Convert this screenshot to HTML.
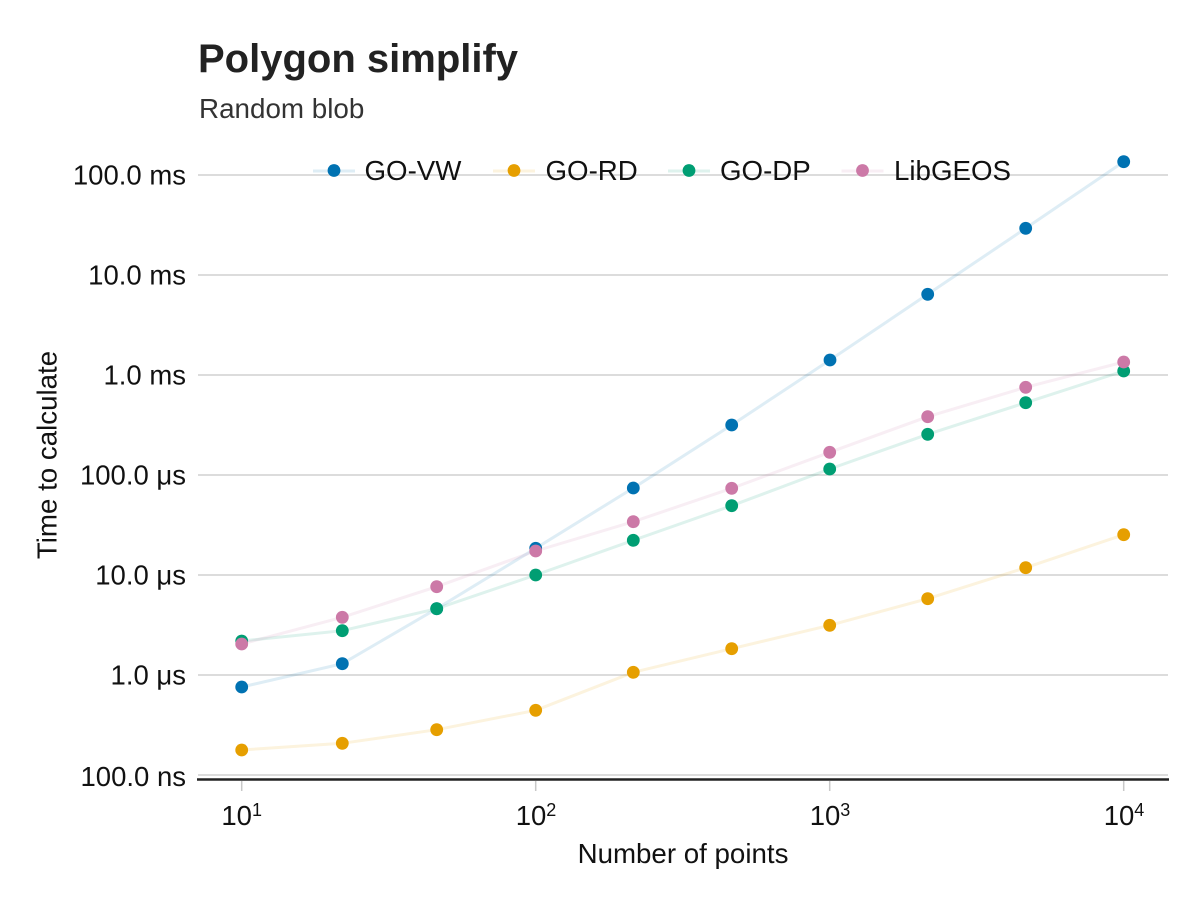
<!DOCTYPE html>
<html>
<head>
<meta charset="utf-8">
<style>
  html, body { margin: 0; padding: 0; background: #ffffff; }
  svg { display: block; }
  text { font-family: "Liberation Sans", Arial, sans-serif; }
</style>
</head>
<body>
<svg width="1200" height="900" viewBox="0 0 1200 900" xmlns="http://www.w3.org/2000/svg">
  <rect x="0" y="0" width="1200" height="900" fill="#ffffff"/>

  <!-- Title / subtitle -->
  <text x="198" y="72" font-size="40" font-weight="bold" fill="#222222">Polygon simplify</text>
  <text x="199" y="118" font-size="27.8" fill="#333333">Random blob</text>

  <!-- Gridlines -->
  <g stroke="#d0d0d0" stroke-width="1.5">
    <line x1="198" y1="175" x2="1168" y2="175"/>
    <line x1="198" y1="275" x2="1168" y2="275"/>
    <line x1="198" y1="375" x2="1168" y2="375"/>
    <line x1="198" y1="475" x2="1168" y2="475"/>
    <line x1="198" y1="575" x2="1168" y2="575"/>
    <line x1="198" y1="675" x2="1168" y2="675"/>
    <line x1="198" y1="775" x2="1168" y2="775"/>
  </g>

  <!-- X axis spine -->
  <line x1="197" y1="779.5" x2="1169" y2="779.5" stroke="#222222" stroke-width="2.6"/>

  <!-- X ticks -->
  <g stroke="#c8c8c8" stroke-width="1.5">
    <line x1="241.7" y1="781" x2="241.7" y2="791"/>
    <line x1="535.7" y1="781" x2="535.7" y2="791"/>
    <line x1="829.7" y1="781" x2="829.7" y2="791"/>
    <line x1="1123.7" y1="781" x2="1123.7" y2="791"/>
  </g>

  <!-- X tick labels -->
  <g font-size="27.5" fill="#111111" text-anchor="middle">
    <text x="241.7" y="825">10<tspan dy="-9" font-size="18">1</tspan></text>
    <text x="536" y="825">10<tspan dy="-9" font-size="18">2</tspan></text>
    <text x="830" y="825">10<tspan dy="-9" font-size="18">3</tspan></text>
    <text x="1124" y="825">10<tspan dy="-9" font-size="18">4</tspan></text>
  </g>

  <!-- Y tick labels -->
  <g font-size="27.5" fill="#111111" text-anchor="end">
    <text x="186" y="184.7">100.0 ms</text>
    <text x="186" y="284.7">10.0 ms</text>
    <text x="186" y="384.7">1.0 ms</text>
    <text x="186" y="484.7">100.0 μs</text>
    <text x="186" y="584.7">10.0 μs</text>
    <text x="186" y="684.7">1.0 μs</text>
    <text x="186" y="786">100.0 ns</text>
  </g>

  <!-- Axis labels -->
  <text x="683" y="863" font-size="27.7" fill="#111111" text-anchor="middle">Number of points</text>
  <text transform="translate(56.5,455) rotate(-90)" x="0" y="0" font-size="27.7" fill="#111111" text-anchor="middle">Time to calculate</text>

  <!-- GO-VW -->
  <polyline fill="none" stroke="#0072B2" stroke-opacity="0.13" stroke-width="3"
    points="241.7,687 342.3,663.7 436.7,608.7 535.7,548.3 633.3,488 731.7,425 830,360 927.7,294.3 1025.7,228.3 1123.7,161.7"/>
  <g fill="#0072B2">
    <circle cx="241.7" cy="687" r="6.4"/>
    <circle cx="342.3" cy="663.7" r="6.4"/>
    <circle cx="436.7" cy="608.7" r="6.4"/>
    <circle cx="535.7" cy="548.3" r="6.4"/>
    <circle cx="633.3" cy="488" r="6.4"/>
    <circle cx="731.7" cy="425" r="6.4"/>
    <circle cx="830" cy="360" r="6.4"/>
    <circle cx="927.7" cy="294.3" r="6.4"/>
    <circle cx="1025.7" cy="228.3" r="6.4"/>
    <circle cx="1123.7" cy="161.7" r="6.4"/>
  </g>

  <!-- GO-RD -->
  <polyline fill="none" stroke="#E69F00" stroke-opacity="0.13" stroke-width="3"
    points="241.7,750 342.3,743.3 436.7,729.7 535.7,710.3 633.3,672.3 731.7,648.7 829.7,625.3 927.7,598.7 1025.7,567.7 1123.7,534.7"/>
  <g fill="#E69F00">
    <circle cx="241.7" cy="750" r="6.4"/>
    <circle cx="342.3" cy="743.3" r="6.4"/>
    <circle cx="436.7" cy="729.7" r="6.4"/>
    <circle cx="535.7" cy="710.3" r="6.4"/>
    <circle cx="633.3" cy="672.3" r="6.4"/>
    <circle cx="731.7" cy="648.7" r="6.4"/>
    <circle cx="829.7" cy="625.3" r="6.4"/>
    <circle cx="927.7" cy="598.7" r="6.4"/>
    <circle cx="1025.7" cy="567.7" r="6.4"/>
    <circle cx="1123.7" cy="534.7" r="6.4"/>
  </g>

  <!-- GO-DP -->
  <polyline fill="none" stroke="#009E73" stroke-opacity="0.13" stroke-width="3"
    points="241.7,641 342.3,630.7 436.7,608.7 535.7,575 633.3,540.3 731.7,505.7 829.7,469 927.7,434.3 1025.7,402.7 1123.7,371"/>
  <g fill="#009E73">
    <circle cx="241.7" cy="641" r="6.4"/>
    <circle cx="342.3" cy="630.7" r="6.4"/>
    <circle cx="436.7" cy="608.7" r="6.4"/>
    <circle cx="535.7" cy="575" r="6.4"/>
    <circle cx="633.3" cy="540.3" r="6.4"/>
    <circle cx="731.7" cy="505.7" r="6.4"/>
    <circle cx="829.7" cy="469" r="6.4"/>
    <circle cx="927.7" cy="434.3" r="6.4"/>
    <circle cx="1025.7" cy="402.7" r="6.4"/>
    <circle cx="1123.7" cy="371" r="6.4"/>
  </g>

  <!-- LibGEOS -->
  <polyline fill="none" stroke="#CC79A7" stroke-opacity="0.13" stroke-width="3"
    points="241.7,644 342.3,617.3 436.7,586.7 535.7,551 633.3,521.7 731.7,488.3 829.7,452.3 927.7,416.7 1025.7,387.3 1123.7,362"/>
  <g fill="#CC79A7">
    <circle cx="241.7" cy="644" r="6.4"/>
    <circle cx="342.3" cy="617.3" r="6.4"/>
    <circle cx="436.7" cy="586.7" r="6.4"/>
    <circle cx="535.7" cy="551" r="6.4"/>
    <circle cx="633.3" cy="521.7" r="6.4"/>
    <circle cx="731.7" cy="488.3" r="6.4"/>
    <circle cx="829.7" cy="452.3" r="6.4"/>
    <circle cx="927.7" cy="416.7" r="6.4"/>
    <circle cx="1025.7" cy="387.3" r="6.4"/>
    <circle cx="1123.7" cy="362" r="6.4"/>
  </g>

  <!-- Legend -->
  <g stroke-width="3" stroke-opacity="0.13">
    <line x1="313" y1="171" x2="355" y2="171" stroke="#0072B2"/>
    <line x1="493" y1="171" x2="535" y2="171" stroke="#E69F00"/>
    <line x1="668" y1="171" x2="710" y2="171" stroke="#009E73"/>
    <line x1="841.5" y1="171" x2="883.5" y2="171" stroke="#CC79A7"/>
  </g>
  <circle cx="334" cy="170.5" r="6.4" fill="#0072B2"/>
  <circle cx="514" cy="170.5" r="6.4" fill="#E69F00"/>
  <circle cx="689" cy="170.5" r="6.4" fill="#009E73"/>
  <circle cx="862.5" cy="170.5" r="6.4" fill="#CC79A7"/>
  <g font-size="27.7" fill="#111111">
    <text x="364.5" y="180">GO-VW</text>
    <text x="545.5" y="180">GO-RD</text>
    <text x="720" y="180">GO-DP</text>
    <text x="894" y="180">LibGEOS</text>
  </g>
</svg>
</body>
</html>
